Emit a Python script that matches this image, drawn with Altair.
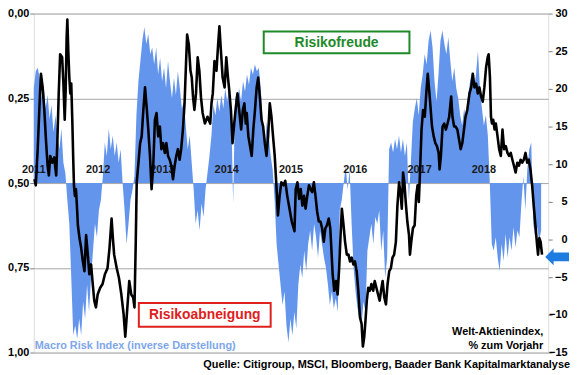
import altair as alt
import pandas as pd
import numpy as np

# ---- data ----
year_labels = [2011, 2012, 2013, 2014, 2015, 2016, 2017, 2018]
left_ticks = [0.0, 0.25, 0.5, 0.75, 1.0]
right_ticks = [-15, -10, -5, 0, 5, 10, 15, 20, 25, 30]

# Macro Risk Index (inverse), left axis, sampled regularly from start to end
risk_start, risk_end = 2011.0, 2018.89
risk_inv = [
    0.22, 0.17, 0.16, 0.19, 0.25, 0.21, 0.28, 0.24, 0.31, 0.27, 0.35, 0.30, 0.36, 0.40, 0.34, 0.44,
    0.47, 0.55, 0.62, 0.78, 0.95, 0.92, 0.96, 0.90, 0.95, 0.85, 0.90, 0.80, 0.88, 0.78, 0.70, 0.62,
    0.66, 0.58, 0.55, 0.48, 0.38, 0.42, 0.34, 0.40, 0.36, 0.42, 0.38, 0.44, 0.40, 0.50, 0.58, 0.68,
    0.62, 0.55, 0.52, 0.48, 0.30, 0.20, 0.14, 0.08, 0.04, 0.09, 0.06, 0.12, 0.10, 0.15, 0.10, 0.18,
    0.13, 0.20, 0.16, 0.22, 0.14, 0.20, 0.25, 0.19, 0.24, 0.17, 0.22, 0.28, 0.26, 0.33, 0.40, 0.36,
    0.44, 0.52, 0.62, 0.58, 0.64, 0.56, 0.60, 0.52, 0.47, 0.42, 0.36, 0.27, 0.30, 0.25, 0.29, 0.24,
    0.28, 0.22, 0.26, 0.21, 0.28, 0.56, 0.24, 0.27, 0.22, 0.26, 0.20, 0.23, 0.18, 0.21, 0.16, 0.18,
    0.15, 0.17, 0.16, 0.22, 0.33, 0.40, 0.32, 0.36, 0.42, 0.46, 0.55, 0.68, 0.74, 0.80, 0.86, 0.82,
    0.92, 0.97, 0.90, 0.95, 0.88, 0.93, 0.80, 0.74, 0.78, 0.70, 0.76, 0.68, 0.64, 0.70, 0.62, 0.66,
    0.72, 0.64, 0.68, 0.72, 0.75, 0.80, 0.86, 0.82, 0.87, 0.84, 0.88, 0.58, 0.55, 0.50, 0.45, 0.52,
    0.46, 0.62, 0.75, 0.82, 0.87, 0.90, 0.92, 0.85, 0.88, 0.70, 0.66, 0.62, 0.68, 0.60, 0.62, 0.58,
    0.70, 0.64, 0.78, 0.72, 0.40, 0.38, 0.41, 0.37, 0.40, 0.36, 0.41, 0.37, 0.42, 0.38, 0.55, 0.44,
    0.32, 0.28, 0.25, 0.30, 0.22, 0.18, 0.12, 0.15, 0.08, 0.05, 0.10, 0.20, 0.26, 0.18, 0.08, 0.05,
    0.09, 0.12, 0.07, 0.14, 0.20, 0.16, 0.22, 0.25, 0.30, 0.33, 0.28, 0.32, 0.24, 0.20, 0.17, 0.22,
    0.18, 0.11, 0.22, 0.28, 0.33, 0.30, 0.36, 0.50, 0.68, 0.70, 0.66, 0.72, 0.76, 0.68, 0.73, 0.65,
    0.72, 0.66, 0.70, 0.63, 0.69, 0.64, 0.66, 0.56, 0.48, 0.58, 0.46, 0.40, 0.38, 0.62, 0.66, 0.63,
    0.67, 0.64,
]

# Welt-Aktienindex, % zum Vorjahr (right axis)
line_t = [
    2011.011, 2011.031, 2011.061, 2011.097, 2011.112, 2011.138, 2011.164, 2011.189, 2011.215, 2011.235,
    2011.256, 2011.287, 2011.318, 2011.349, 2011.369, 2011.388, 2011.410, 2011.441, 2011.461, 2011.481,
    2011.496, 2011.511, 2011.522, 2011.537, 2011.553, 2011.568, 2011.583, 2011.599, 2011.614, 2011.625,
    2011.640, 2011.656, 2011.671, 2011.686, 2011.711, 2011.737, 2011.763, 2011.788, 2011.814, 2011.840,
    2011.864, 2011.891, 2011.917, 2011.941, 2011.967, 2011.993, 2012.033, 2012.070, 2012.106, 2012.147,
    2012.178, 2012.210, 2012.230, 2012.250, 2012.290, 2012.325, 2012.362, 2012.397, 2012.423, 2012.448,
    2012.485, 2012.516, 2012.546, 2012.566, 2012.586, 2012.601, 2012.628, 2012.654, 2012.678, 2012.704,
    2012.730, 2012.755, 2012.781, 2012.807, 2012.832, 2012.858, 2012.884, 2012.909, 2012.935, 2012.961,
    2012.985, 2013.012, 2013.038, 2013.062, 2013.088, 2013.114, 2013.139, 2013.165, 2013.191, 2013.216,
    2013.242, 2013.268, 2013.292, 2013.319, 2013.345, 2013.369, 2013.385, 2013.411, 2013.437, 2013.457,
    2013.477, 2013.498, 2013.523, 2013.549, 2013.575, 2013.600, 2013.626, 2013.661, 2013.702, 2013.744,
    2013.764, 2013.784, 2013.810, 2013.841, 2013.867, 2013.887, 2013.907, 2013.937, 2013.968, 2013.994,
    2014.020, 2014.040, 2014.066, 2014.091, 2014.117, 2014.143, 2014.168, 2014.194, 2014.225, 2014.251,
    2014.275, 2014.297, 2014.312, 2014.337, 2014.363, 2014.389, 2014.414, 2014.440, 2014.466, 2014.490,
    2014.516, 2014.542, 2014.567, 2014.593, 2014.619, 2014.644, 2014.670, 2014.696, 2014.721, 2014.747,
    2014.773, 2014.797, 2014.823, 2014.850, 2014.885, 2014.911, 2014.942, 2014.977, 2015.012, 2015.054,
    2015.074, 2015.100, 2015.126, 2015.151, 2015.177, 2015.203, 2015.227, 2015.253, 2015.280, 2015.304,
    2015.330, 2015.356, 2015.381, 2015.407, 2015.433, 2015.458, 2015.484, 2015.510, 2015.534, 2015.560,
    2015.587, 2015.611, 2015.627, 2015.648, 2015.673, 2015.699, 2015.725, 2015.749, 2015.771, 2015.791,
    2015.817, 2015.841, 2015.868, 2015.894, 2015.918, 2015.944, 2015.970, 2015.995, 2016.021, 2016.047,
    2016.072, 2016.098, 2016.118, 2016.139, 2016.159, 2016.179, 2016.201, 2016.225, 2016.251, 2016.278,
    2016.302, 2016.328, 2016.354, 2016.379, 2016.400, 2016.425, 2016.451, 2016.477, 2016.502, 2016.528,
    2016.554, 2016.578, 2016.604, 2016.631, 2016.655, 2016.681, 2016.707, 2016.723, 2016.743, 2016.763,
    2016.784, 2016.809, 2016.835, 2016.850, 2016.870, 2016.896, 2016.923, 2016.947, 2016.968, 2016.988,
    2017.008, 2017.030, 2017.054, 2017.081, 2017.107, 2017.127, 2017.153, 2017.173, 2017.193, 2017.219,
    2017.245, 2017.270, 2017.296, 2017.311, 2017.331, 2017.357, 2017.383, 2017.408, 2017.434, 2017.460,
    2017.491, 2017.511, 2017.537, 2017.561, 2017.587, 2017.613, 2017.638, 2017.664, 2017.690, 2017.715,
    2017.741, 2017.776, 2017.802, 2017.828, 2017.852, 2017.879, 2017.905, 2017.930, 2017.956, 2017.982,
    2018.007, 2018.033, 2018.059, 2018.074, 2018.094, 2018.110, 2018.125, 2018.145, 2018.166, 2018.186,
    2018.212, 2018.237, 2018.263, 2018.289, 2018.314, 2018.340, 2018.366, 2018.391, 2018.417, 2018.443,
    2018.467, 2018.493, 2018.519, 2018.545, 2018.570, 2018.596, 2018.621, 2018.647, 2018.673, 2018.698,
    2018.724, 2018.750, 2018.775, 2018.801, 2018.827, 2018.842, 2018.862, 2018.882, 2018.904,
]
line_v = [
    8.0, 7.2, 12.0, 19.4, 22.0, 20.2, 17.2, 13.3, 9.8, 8.5,
    11.1, 10.2, 10.9, 8.5, 13.7, 19.4, 24.6, 24.2, 20.7, 15.9,
    19.8, 26.8, 29.2, 25.0, 21.5, 19.4, 20.7, 15.9, 10.6, 7.2,
    5.8, 6.7, 4.5, 1.9, 0.2, -1.1, -2.9, -4.2, 0.6, -2.0,
    -4.6, -3.3, -5.9, -8.1, -9.0, -7.3, -6.4, -5.9, -4.6, -3.8,
    -1.1, 2.8, 0.2, -2.0, -3.8, -5.1, -7.3, -9.9, -12.9, -9.9,
    -5.5, -7.3, -7.7, -9.0, -0.3, 7.6, 10.2, 12.8, 13.7, 17.2,
    20.2, 17.6, 14.6, 11.1, 6.7, 9.8, 15.9, 16.8, 13.7, 15.0,
    12.0, 12.8, 11.5, 12.8, 11.1, 10.6, 9.8, 8.0, 9.8, 11.1,
    12.0, 10.6, 12.0, 14.6, 18.1, 23.7, 27.2, 25.9, 22.4, 21.5,
    18.9, 17.2, 19.4, 24.2, 22.4, 18.9, 16.8, 15.4, 16.3, 15.4,
    18.1, 19.4, 23.7, 22.4, 25.9, 28.3, 25.5, 21.5, 20.2, 24.2,
    21.5, 19.8, 17.2, 12.8, 15.4, 17.6, 19.4, 17.2, 14.6, 17.2,
    18.1, 15.4, 16.8, 13.7, 12.4, 11.1, 14.6, 17.2, 20.2, 21.5,
    18.9, 15.9, 15.0, 12.8, 11.1, 13.7, 18.1, 16.3, 13.7, 11.1,
    7.2, 3.2, 5.8, 7.6, 7.2, 7.8, 5.8, 4.1, 2.4, 1.1,
    6.7, 7.6, 5.4, 6.7, 4.5, 5.8, 4.1, 5.8, 7.2, 6.7,
    6.3, 7.6, 5.8, 3.7, 2.4, 2.4, 1.5, -0.3, 1.5, 1.9,
    2.8, 1.5, -1.1, -4.6, -6.8, -5.5, -7.3, -3.8, 0.6, 4.1,
    1.9, -0.3, -2.0, -2.0, -2.9, -2.4, -3.3, -2.9, -4.2, -6.8,
    -10.3, -11.2, -14.2, -12.9, -10.7, -8.1, -6.4, -6.8, -5.9, -6.8,
    -5.5, -6.4, -7.3, -8.1, -6.8, -5.5, -7.7, -8.6, -5.9, -4.2,
    -3.8, -2.4, -2.0, -0.3, 4.5, 7.6, 5.8, 4.1, 8.9, 7.6,
    5.0, 2.4, 0.6, -2.0, -0.3, 1.5, 1.9, 5.8, 7.2, 5.0,
    9.3, 14.6, 17.2, 16.3, 19.8, 22.0, 19.4, 17.2, 15.0, 13.7,
    12.8, 12.4, 11.5, 9.3, 11.1, 15.0, 15.4, 14.6, 15.4, 16.3,
    19.0, 16.3, 15.0, 15.0, 14.6, 13.3, 12.0, 12.8, 14.6, 16.3,
    17.2, 19.4, 20.2, 22.0, 20.2, 20.7, 19.4, 20.2, 19.0, 18.3,
    20.2, 22.8, 24.2, 24.6, 21.5, 16.3, 15.4, 15.9, 14.6, 15.4,
    13.7, 12.0, 11.1, 14.6, 12.0, 12.4, 11.5, 11.1, 11.5, 10.6,
    9.8, 8.9, 10.2, 9.8, 10.6, 10.2, 10.6, 11.5, 10.2, 10.6,
    9.3, 7.2, 4.5, 1.9, -0.7, -2.0, 0.2, -0.3, -2.0,
]
arrow_value = [-2.3]

# ---- tables ----
risk_df = pd.DataFrame({"t": np.linspace(risk_start, risk_end, len(risk_inv)), "r": risk_inv})
line_df = pd.DataFrame({"t": line_t, "v": line_v})
yl_df = pd.DataFrame({"t": year_labels, "lbl": [str(y) for y in year_labels], "r": [0.5] * len(year_labels)})
arrow_df = pd.DataFrame({"v": arrow_value})
one = pd.DataFrame({"a": [0]})

W, H = 519, 342
FONT = "Liberation Sans"

xsc = alt.Scale(domain=[2011, 2019], nice=False, zero=False)
lsc = alt.Scale(domain=[0, 1], reverse=True, nice=False, zero=False)
rsc = alt.Scale(domain=[-15, 30], nice=False, zero=False)
X = alt.X("t:Q", scale=xsc, axis=None)

area = alt.Chart(risk_df).mark_area(color="#6495ed", interpolate="linear").encode(
    x=X,
    y=alt.Y("r:Q", scale=lsc, axis=alt.Axis(
        orient="left", values=left_ticks, title=None,
        labelExpr="replace(format(datum.value, '.2f'), '.', ',')",
        grid=True, gridColor="#a6a6a6", gridWidth=1, domain=False,
        ticks=True, tickColor="#808080", tickSize=4, labelPadding=1,
        labelFont=FONT, labelFontWeight="bold", labelFontSize=11, labelColor="#000000")),
    y2=alt.datum(0.5),
)

years = alt.Chart(yl_df).mark_text(font=FONT, fontWeight="bold", fontSize=11, dy=-13,
                                   color="#1a1a1a", baseline="middle").encode(
    x=X, y=alt.Y("r:Q", scale=lsc, axis=None), text="lbl:N")

line = alt.Chart(line_df).mark_line(color="black", strokeWidth=2.6, strokeJoin="round").encode(
    x=X,
    y=alt.Y("v:Q", scale=rsc, axis=alt.Axis(
        orient="right", values=right_ticks, title=None, grid=False, domain=False,
        ticks=True, tickColor="#808080", tickSize=4, labelAlign="right", labelPadding=15,
        labelFont=FONT, labelFontWeight="bold", labelFontSize=11, labelColor="#000000")),
)

arrow_path = "M-1,0 L-0.3,-0.7 L-0.3,-0.36 L1,-0.36 L1,0.36 L-0.3,0.36 L-0.3,0.7 Z"
arrow = alt.Chart(arrow_df).mark_point(shape=arrow_path, filled=True, size=576, color="#1e7be0",
                                       opacity=1, strokeWidth=0).encode(
    x=alt.value(528), y=alt.Y("v:Q", scale=rsc, axis=None))


def box(x1, x2, y1, y2, color):
    return alt.Chart(one).mark_rect(fill="white", stroke=color, strokeWidth=2).encode(
        x=alt.value(x1), x2=alt.value(x2), y=alt.value(y1), y2=alt.value(y2))


def label(txt, x, y, color, size=11, align="center"):
    return alt.Chart(one).mark_text(text=txt, font=FONT, fontWeight="bold", fontSize=size,
                                    color=color, align=align, baseline="middle").encode(
        x=alt.value(x), y=alt.value(y))


green = "#1e8a28"
red = "#e0201c"
layers = [
    area, years, line,
    box(232, 379, 18, 40, green), label("Risikofreude", 305.5, 29.5, green, 14),
    box(106, 239, 292, 316, red), label("Risikoabneigung", 172.5, 304.5, red, 14),
    label("Macro Risk Index (inverse Darstellung)", 1, 335, "#7ea6ea", 11, "left"),
    label("Welt-Aktienindex,", 514, 321, "#000000", 11, "right"),
    label("% zum Vorjahr", 514, 335, "#000000", 11, "right"),
    label("Quelle: Citigroup, MSCI, Bloomberg, Baader Bank Kapitalmarktanalyse", 541, 355, "#000000", 11, "right"),
    arrow,
]

chart = alt.layer(*layers).resolve_scale(y="independent").properties(
    width=W, height=H,
    padding={"left": 26, "top": 4, "right": 24, "bottom": 18},
    autosize=alt.AutoSizeParams(type="none"),
).configure_view(stroke="#808080", strokeWidth=1).configure(font=FONT)

chart.save("out.html", embed_options={"renderer": "svg", "actions": False})
